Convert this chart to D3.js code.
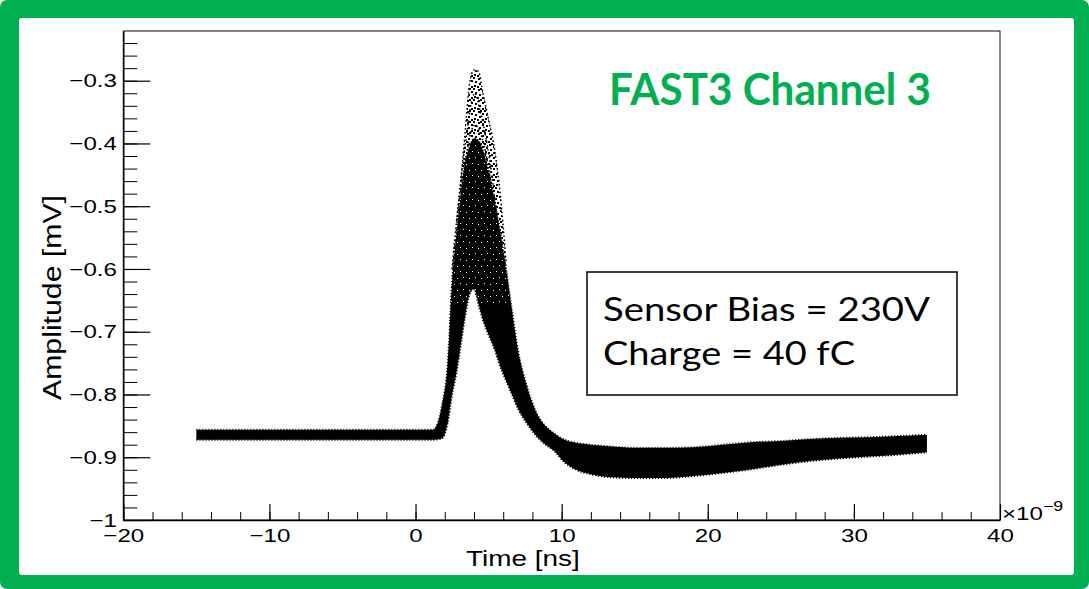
<!DOCTYPE html>
<html><head><meta charset="utf-8">
<script src="https://cdn.jsdelivr.net/npm/d3@7"></script>
<style>html,body{margin:0;padding:0;background:#fff;}svg{display:block}</style>
</head><body><svg id="c" width="1089" height="589"></svg>
<script>
// ---- data ----
const timeNs   = [-15, -10, -5, 0, 1.2, 1.8, 2.2, 2.5, 2.8, 3.1, 3.4, 3.7, 4.0, 4.3, 4.6, 5.0, 5.4, 5.8, 6.2, 6.6, 7.0, 7.6, 8.2, 8.8, 9.5, 10.2, 11, 12, 13.5, 15, 17, 19, 21, 23, 25, 27, 29, 31, 33, 35];
// upper edge of the whole cloud of waveforms (largest pulses)
const upperEnv = [-0.856, -0.856, -0.856, -0.856, -0.856, -0.818, -0.745, -0.60, -0.525, -0.46, -0.38, -0.305, -0.283, -0.285, -0.318, -0.362, -0.408, -0.482, -0.59, -0.665, -0.727, -0.785, -0.825, -0.848, -0.862, -0.872, -0.877, -0.880, -0.883, -0.885, -0.885, -0.884, -0.880, -0.876, -0.874, -0.871, -0.869, -0.868, -0.866, -0.864];
// upper edge of the dense core
const denseEnv = [-0.856, -0.856, -0.856, -0.856, -0.856, -0.818, -0.75, -0.62, -0.545, -0.48, -0.43, -0.405, -0.392, -0.395, -0.41, -0.445, -0.49, -0.54, -0.60, -0.665, -0.727, -0.785, -0.825, -0.848, -0.862, -0.872, -0.877, -0.880, -0.883, -0.885, -0.885, -0.884, -0.880, -0.876, -0.874, -0.871, -0.869, -0.868, -0.866, -0.864];
// lower edge of the cloud (smallest pulse, then undershoot)
const lowerEnv = [-0.872, -0.872, -0.872, -0.872, -0.872, -0.870, -0.845, -0.80, -0.765, -0.72, -0.675, -0.64, -0.632, -0.655, -0.68, -0.705, -0.727, -0.755, -0.778, -0.80, -0.822, -0.845, -0.864, -0.878, -0.89, -0.908, -0.92, -0.927, -0.932, -0.933, -0.933, -0.930, -0.925, -0.919, -0.912, -0.906, -0.902, -0.899, -0.896, -0.892];
// individual sparse traces visible near the peak
const trace2T = [2.84, 3.18, 3.52, 3.73, 4.07, 4.41, 4.75, 5.17, 5.58];
const trace2V = [-0.522, -0.442, -0.383, -0.347, -0.320, -0.347, -0.383, -0.442, -0.522];
const trace3T = [3.18, 3.59, 4.07, 4.68, 5.23];
const trace3V = [-0.474, -0.402, -0.371, -0.402, -0.474];

const xMajor = [-20, -10, 0, 10, 20, 30, 40];
const yMajor = [-1, -0.9, -0.8, -0.7, -0.6, -0.5, -0.4, -0.3];
const xTitle = "Time [ns]";
const yTitle = "Amplitude [mV]";
const chartTitle = "FAST3 Channel 3";
const infoLines = ["Sensor Bias = 230V", "Charge = 40 fC"];

// ---- drawing ----
const W = 1089, H = 589, GREEN = "#00b050", SX = 1.27;
const svg = d3.select("#c");
svg.append("rect").attr("x", 0).attr("y", 0).attr("width", W).attr("height", H).attr("rx", 7).attr("fill", GREEN);
svg.append("rect").attr("x", 19).attr("y", 18).attr("width", 1074 - 19).attr("height", 575 - 18).attr("rx", 3).attr("fill", "#fff");

const x = d3.scaleLinear().domain([-20, 40]).range([123.3, 1000]);
const y = d3.scaleLinear().domain([-1, -0.2208]).range([520, 31]);

const defs = svg.append("defs");
defs.append("clipPath").attr("id", "plotclip").append("rect")
  .attr("x", x(-20)).attr("y", y(-0.2208)).attr("width", x(40) - x(-20)).attr("height", y(-1) - y(-0.2208));
defs.append("clipPath").attr("id", "peakclip").append("rect")
  .attr("x", x(-20)).attr("y", y(-0.2208)).attr("width", x(40) - x(-20)).attr("height", y(-0.66) - y(-0.2208));

// sparse dots pattern
const pSparse = defs.append("pattern").attr("id", "sparse").attr("patternUnits", "userSpaceOnUse").attr("width", 11).attr("height", 11);
[[0,0],[5,1],[9,3],[2,4],[6,6],[1,8],[9,9],[4,9],[7,0]].forEach(p =>
  pSparse.append("rect").attr("x", p[0]).attr("y", p[1]).attr("width", 2).attr("height", 2).attr("fill", "#000"));
// speckle pattern (white holes in the dense core)
const pSpk = defs.append("pattern").attr("id", "speckle").attr("patternUnits", "userSpaceOnUse").attr("width", 12).attr("height", 12);
[[1,2],[7,1],[4,7],[10,8]].forEach(p =>
  pSpk.append("rect").attr("x", p[0]).attr("y", p[1]).attr("width", 1).attr("height", 1).attr("fill", "#fff"));

const data = timeNs.map((t, i) => ({t, up: upperEnv[i], dn: denseEnv[i], lo: lowerEnv[i]}));
const plot = svg.append("g").attr("clip-path", "url(#plotclip)");

const areaSparse = d3.area().x(d => x(d.t)).y0(d => y(d.dn)).y1(d => y(d.up)).curve(d3.curveMonotoneX);
const areaDense = d3.area().x(d => x(d.t)).y0(d => y(d.lo)).y1(d => y(d.dn)).curve(d3.curveMonotoneX);
plot.append("path").datum(data).attr("d", areaSparse).attr("fill", "url(#sparse)");
plot.append("path").datum(data).attr("d", areaDense).attr("fill", "#000");
plot.append("g").attr("clip-path", "url(#peakclip)")
  .append("path").datum(data).attr("d", areaDense).attr("fill", "url(#speckle)");

const line = d3.line().x(d => x(d[0])).y(d => y(d[1])).curve(d3.curveMonotoneX);
// ragged edges of the cloud
const ragged = (pts, w, dash) => plot.append("path").datum(pts).attr("d", line).attr("fill", "none")
  .attr("stroke", "#000").attr("stroke-width", w).attr("stroke-dasharray", dash);
ragged(timeNs.map((t, i) => [t, denseEnv[i]]), 1.8, "1 2");
ragged(timeNs.map((t, i) => [t, lowerEnv[i]]), 2.0, "1.2 1.8");
// sparse individual traces
ragged(timeNs.map((t, i) => [t, upperEnv[i]]).filter(d => d[0] >= 2.5 && d[0] <= 6.2), 1.5, "1.6 2.4");
ragged(trace2T.map((t, i) => [t, trace2V[i]]), 1.5, "1.6 2.2");
ragged(trace3T.map((t, i) => [t, trace3V[i]]), 1.5, "1.6 2.0");

// frame
svg.append("rect").attr("x", x(-20)).attr("y", y(-0.2208)).attr("width", x(40) - x(-20)).attr("height", y(-1) - y(-0.2208))
  .attr("fill", "none").attr("stroke", "#222").attr("stroke-width", 1.1);

const FONT = "'Liberation Sans', Arial, Helvetica, sans-serif";
// x axis
const xMinor = d3.range(-20, 41, 2);
svg.append("g").attr("transform", `translate(0,${y(-1)})`)
  .call(d3.axisBottom(x).tickValues(xMinor).tickSize(-8).tickSizeOuter(0).tickFormat(""))
  .call(g => g.select(".domain").remove());
const gx = svg.append("g").attr("transform", `translate(0,${y(-1)})`)
  .call(d3.axisBottom(x).tickValues(xMajor).tickSize(-16).tickSizeOuter(0).tickFormat(d3.format("d")));
gx.select(".domain").attr("stroke", "#000").attr("stroke-width", 1.4);
gx.selectAll(".tick line").attr("stroke", "#000").attr("stroke-width", 1.2);
gx.selectAll(".tick text").attr("y", 22).attr("dy", 0).attr("font-family", FONT).attr("font-size", 19)
  .attr("fill", "#000").attr("transform", `scale(${SX},1)`);

// y axis
const yMinor = d3.range(0, 40).map(i => -1 + i * 0.02).filter(v => v <= -0.2208);
svg.append("g").attr("transform", `translate(${x(-20)},0)`)
  .call(d3.axisLeft(y).tickValues(yMinor).tickSize(-14).tickSizeOuter(0).tickFormat(""))
  .call(g => g.select(".domain").remove());
const gy = svg.append("g").attr("transform", `translate(${x(-20)},0)`)
  .call(d3.axisLeft(y).tickValues(yMajor).tickSize(-27).tickSizeOuter(0).tickPadding(5)
    .tickFormat(v => v === -1 ? "\u22121" : d3.format(".1f")(v)));
gy.select(".domain").attr("stroke", "#000").attr("stroke-width", 1.4);
gy.selectAll(".tick line").attr("stroke", "#000").attr("stroke-width", 1.2);
gy.selectAll(".tick text").attr("font-family", FONT).attr("font-size", 19).attr("fill", "#000")
  .attr("transform", `scale(${SX},1)`);

// exponent
const ex = svg.append("g").attr("transform", `translate(1002,520) scale(${SX},1)`)
  .append("text").attr("font-family", FONT).attr("font-size", 19).attr("fill", "#000");
ex.append("tspan").text("\u00d710");
ex.append("tspan").attr("font-size", 14).attr("dy", -9).text("\u22129");

// axis titles
svg.append("g").attr("transform", `translate(466,566) scale(${SX},1)`)
  .append("text").attr("font-family", FONT).attr("font-size", 22).attr("fill", "#000").text(xTitle);
svg.append("g").attr("transform", `translate(61,400) scale(${SX},1) rotate(-90)`)
  .append("text").attr("font-family", FONT).attr("font-size", 21).attr("fill", "#000")
  .attr("textLength", 205).attr("lengthAdjust", "spacingAndGlyphs").text(yTitle);

// title
svg.append("text").attr("x", 609).attr("y", 105).attr("font-family", "Lato, 'Open Sans', sans-serif")
  .attr("font-weight", 700).attr("font-size", 44).attr("fill", GREEN)
  .attr("textLength", 322).attr("lengthAdjust", "spacingAndGlyphs").text(chartTitle);

// info box
svg.append("rect").attr("x", 587).attr("y", 272).attr("width", 957 - 587).attr("height", 395 - 272)
  .attr("fill", "#fff").attr("stroke", "#000").attr("stroke-width", 1.5);
const infoW = [327, 252], infoY = [321, 365];
infoLines.forEach((s, i) => svg.append("text").attr("x", 603).attr("y", infoY[i])
  .attr("font-family", "Lato, 'Open Sans', sans-serif").attr("font-size", 33).attr("fill", "#000")
  .attr("textLength", infoW[i]).attr("lengthAdjust", "spacingAndGlyphs").text(s));
</script></body></html>
